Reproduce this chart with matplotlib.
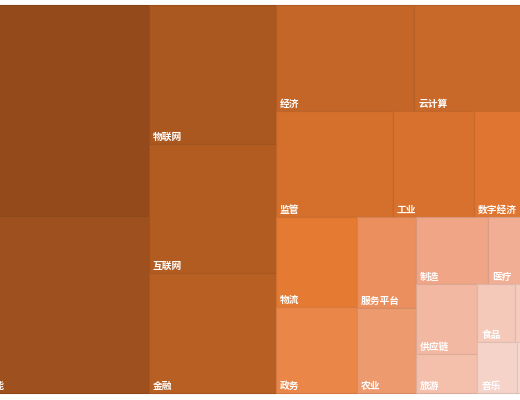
import matplotlib.pyplot as plt
from matplotlib.patches import Rectangle
from matplotlib.colors import to_rgb

plt.rcParams['font.family'] = ['Noto Sans CJK SC', 'DejaVu Sans']

# data (sorted, largest first)
names = ['大数据', '人工智能', '物联网', '互联网', '金融', '经济', '云计算', '监管', '工业',
         '数字经济', '物流', '政务', '服务平台', '农业', '制造', '医疗', '供应链', '旅游',
         '食品', '教育', '音乐', '能源']
values = [395, 331, 177, 164, 152, 147, 146, 124, 86, 83, 73, 70, 53.5, 50.5, 48, 43,
          42.5, 24, 22, 21, 20.5, 18]

# one colour per rank, dark brown -> orange -> pale pink
colors = ['#954a1b', '#9e511e', '#aa5820', '#b25c22', '#b86023', '#c36628', '#c8692a',
          '#d46f2c', '#d8712d', '#df7530', '#e57a32', '#ea8648', '#eb8f5e', '#ed9a6f',
          '#f0a587', '#f2ae94', '#f3b8a1', '#f4c0ab', '#f5c9b9', '#f5cdbf', '#f5d3c8',
          '#f6dad0']


def worst(row, side):
    s = sum(row)
    return max(side ** 2 * max(row) / s ** 2, s ** 2 / (side ** 2 * min(row)))


def squarify(vals, x, y, w, h):
    scale = w * h / sum(vals)
    areas = [v * scale for v in vals]
    rects = []
    i = 0
    while i < len(areas):
        side = min(w, h)
        row = [areas[i]]
        i += 1
        while i < len(areas) and worst(row + [areas[i]], side) <= worst(row, side):
            row.append(areas[i])
            i += 1
        thick = sum(row) / side
        if w >= h:
            # column on the left
            yy = y
            for a in row:
                rects.append((x, yy, thick, a / thick))
                yy += a / thick
            x += thick
            w -= thick
        else:
            # row on top
            xx = x
            for a in row:
                rects.append((xx, y, a / thick, thick))
                xx += a / thick
            y += thick
            h -= thick
    return rects


fig = plt.figure(figsize=(5.2, 4), dpi=100)
ax = fig.add_axes([0, 0, 1, 1])
ax.set_xlim(0, 520)
ax.set_ylim(400, 0)
ax.axis('off')

# the treemap is wider than the canvas, as in the original
rects = squarify(values, -38, 5, 590, 388)

for (x, y, w, h), name, c in zip(rects, names, colors):
    edge = tuple(v * 0.9 for v in to_rgb(c))
    ax.add_patch(Rectangle((x, y), w, h, facecolor=c, edgecolor=edge, linewidth=0.8))
    ax.text(x + 4, y + h - 7, name, color='white', fontsize=7, fontweight='bold',
            ha='left', va='center')

fig.savefig('out.png', dpi=100)
